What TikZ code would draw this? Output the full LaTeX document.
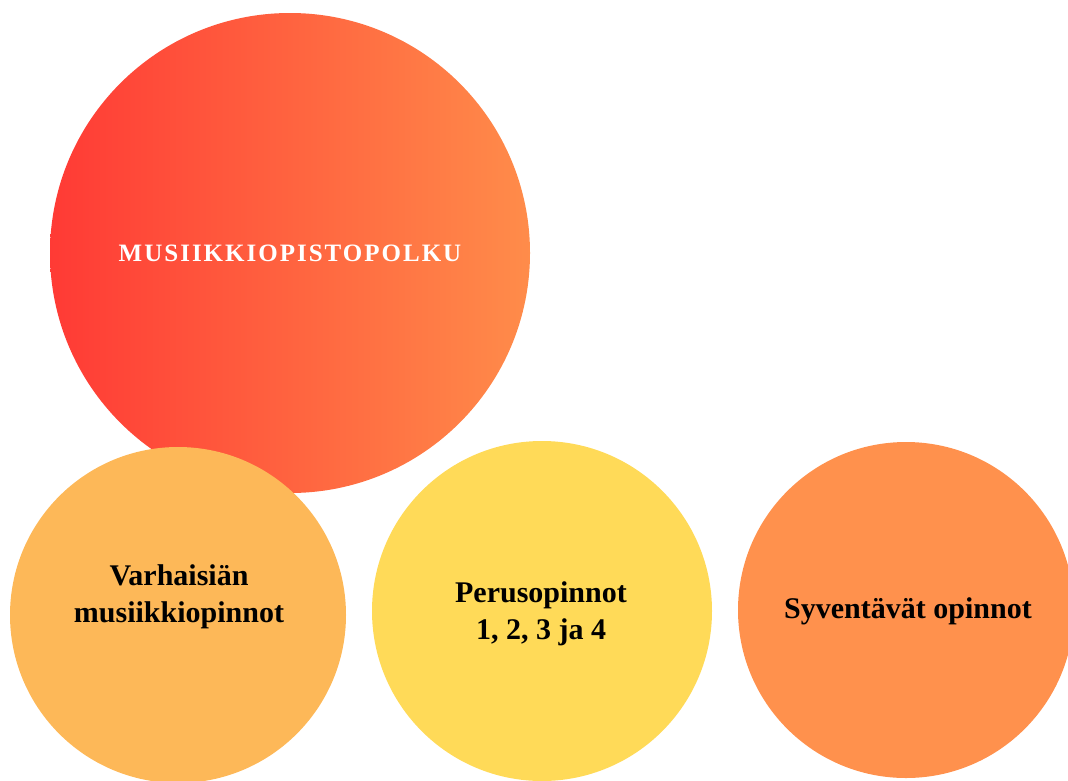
\documentclass[tikz,border=0pt]{standalone}
\usepackage{fontspec}
\setmainfont{Liberation Serif}
\definecolor{redL}{HTML}{FF3A35}
\definecolor{redR}{HTML}{FF8C4A}
\definecolor{cVar}{HTML}{FDB858}
\definecolor{cPer}{HTML}{FFDA58}
\definecolor{cSyv}{HTML}{FF914D}
\tikzset{
  bubble/.style={circle, inner sep=0pt},
  btext/.style={inner sep=0pt, align=center, font=\bfseries\fontsize{30}{37}\selectfont, text=black},
}
\begin{document}
\begin{tikzpicture}[x=1pt,y=-1pt]
\useasboundingbox (0,0) rectangle (1068,780);
\clip (0,0) rectangle (1068,780);
\node[bubble, minimum size=480pt, left color=redL, right color=redR] (main) at (290,253) {};
\node[inner sep=0pt, text=white,
  font=\bfseries\fontsize{25}{28}\selectfont\addfontfeature{LetterSpace=8}] (mainT) at (290,253) {MUSIIKKIOPISTOPOLKU};
\node[bubble, minimum size=336pt, fill=cVar] (var) at (178,615) {};
\node[btext] (varT) at (179,597) {Varhaisiän\\musiikkiopinnot};
\node[bubble, minimum size=340pt, fill=cPer] (per) at (542,611) {};
\node[btext] (perT) at (541,614) {Perusopinnot\\1, 2, 3 ja 4};
\node[bubble, minimum size=336pt, fill=cSyv] (syv) at (906,610) {};
\node[btext] (syvT) at (908,611) {Syventävät opinnot};
\end{tikzpicture}
\end{document}
